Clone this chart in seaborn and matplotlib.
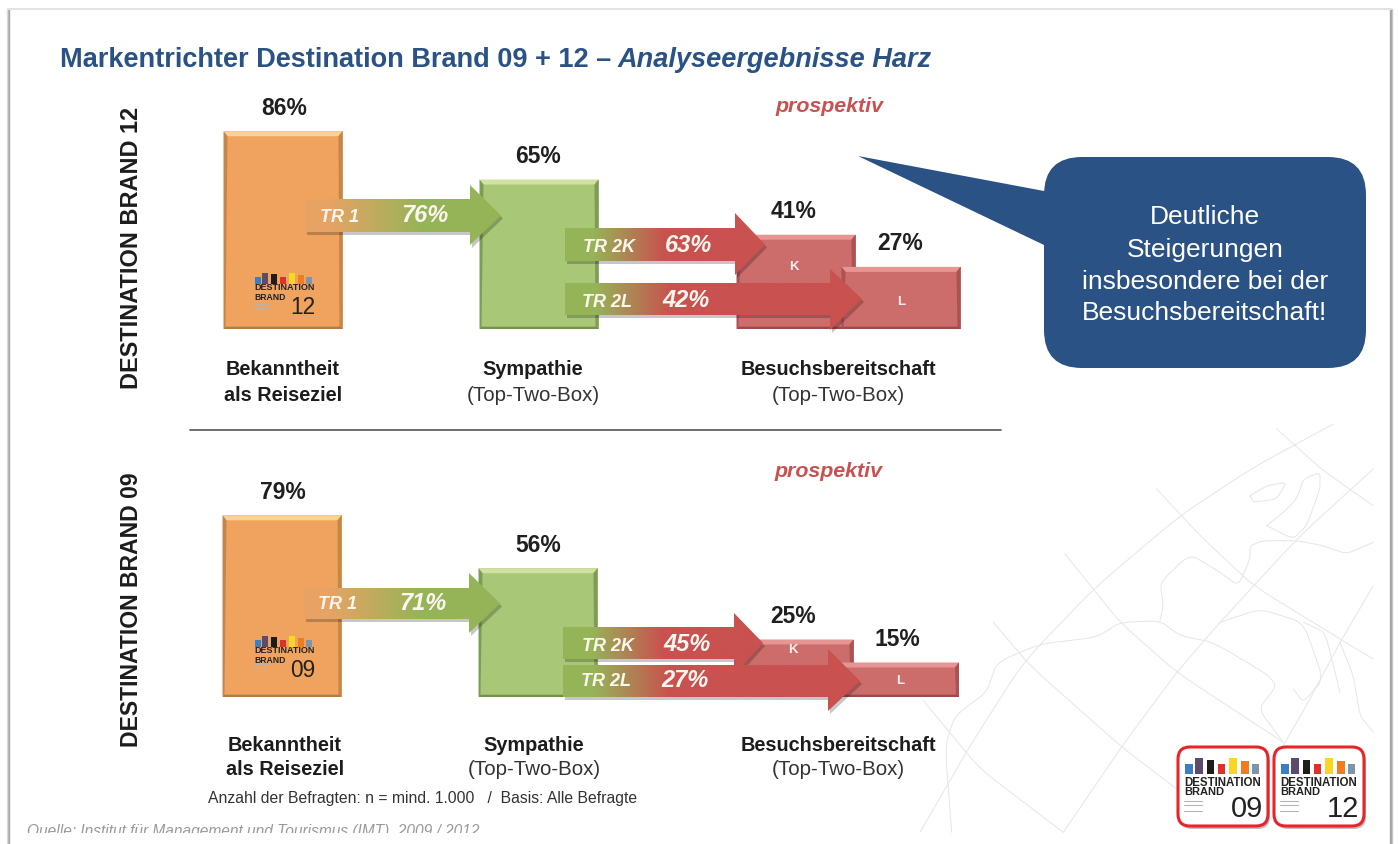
import numpy as np
import pandas as pd
import matplotlib
matplotlib.use('Agg')
import matplotlib.pyplot as plt
import seaborn as sns
from matplotlib.colors import LinearSegmentedColormap
from matplotlib.patches import FancyBboxPatch, Polygon, Rectangle

# Werte aus dem Bild
stufen = ['Bekanntheit', 'Sympathie', 'Besuch K', 'Besuch L']
werte_12 = [86, 65, 41, 27]
werte_09 = [79, 56, 25, 15]
tr_namen = ['TR 1', 'TR 2K', 'TR 2L']
tr_12 = [76, 63, 42]
tr_09 = [71, 45, 27]

sns.set_theme(style='white')
plt.rcParams['font.family'] = ['Liberation Sans', 'DejaVu Sans']

B, H = 1399, 845
PX_PRO_PROZENT = 2.3
BLAU = '#2a5284'
ROT = '#c9514f'
GRUEN = '#95b458'
ORANGE = '#e8a364'
FARBEN = dict(zip(stufen, ['#f0a35e', '#a9c877', '#cc6c6b', '#cc6c6b']))
KANTEN = dict(zip(stufen, [('#fbd391', '#c58649', '#b07c4a'), ('#cfe2a4', '#7f9c56', '#74904e'),
                           ('#e69593', '#a95352', '#9c4a49'), ('#e69593', '#a95352', '#9c4a49')]))

fig = plt.figure(figsize=(B / 100, H / 100), dpi=100, facecolor='white')


def seiten_achse(z):
    ax = fig.add_axes([0, 0, 1, 1], zorder=z)
    ax.set_xlim(0, B)
    ax.set_ylim(H, 0)
    ax.axis('off')
    ax.patch.set_alpha(0)
    return ax


hg = seiten_achse(0)
top = seiten_achse(3)

# Folienrahmen
for x, f in [(7, '#e2e2e2'), (8, '#bdbdbd'), (9, '#a8a8a8'), (1390, '#a8a8a8'), (1391, '#a0a0a0'), (1392, '#c8c8c8')]:
    hg.plot([x, x], [10, H], color=f, lw=1)
hg.plot([8, 1391], [10, 10], color='#e3e3e3', lw=1.5)

# Landkarte im Hintergrund (nur Deko)
karte = [
    [(60, 1300), (210, 1040), (370, 790), (580, 570), (840, 350), (1060, 205), (1300, 75)],
    [(490, 1300), (660, 1050), (830, 820), (960, 670), (1200, 410), (1420, 210)],
    [(770, 270), (900, 410), (1060, 560), (1320, 720), (1420, 780)],
    [(495, 465), (660, 670), (830, 820), (1150, 1030)],
    [(280, 670), (390, 800), (660, 1040), (830, 1170)],
    [(1130, 90), (1270, 215), (1420, 320)],
    [(1420, 560), (1320, 730), (1230, 900), (1150, 1040)],
    [(70, 905), (240, 1110), (490, 1300)],
    [(155, 1300), (135, 1040), (165, 950), (260, 880), (290, 790), (420, 735), (590, 715), (660, 670),
     (780, 665), (840, 710), (940, 730), (1100, 825), (1130, 860), (1075, 930), (1150, 1030)],
    [(1420, 430), (1340, 465), (1270, 440), (1190, 425), (1090, 425), (1050, 440), (1050, 480), (1015, 560),
     (960, 520), (870, 465), (780, 550), (790, 620), (780, 665)],
    [(960, 670), (1080, 630), (1210, 670), (1270, 840), (1210, 910), (1180, 870)],
    [(1210, 670), (1275, 700), (1320, 880)],
    [(1320, 730), (1360, 830), (1380, 950), (1420, 1000)],
    [(1050, 290), (1100, 260), (1160, 250), (1130, 300), (1060, 310), (1050, 290)],
    [(1100, 380), (1150, 340), (1190, 300), (1210, 240), (1260, 220), (1260, 270), (1220, 380), (1180, 420), (1100, 380)],
]
for linie in karte:
    p = np.array(linie, float)
    t = np.arange(len(p))
    tt = np.linspace(0, len(p) - 1, 40 * len(p))
    gx = np.interp(tt, t, p[:, 0])
    gy = np.interp(tt, t, p[:, 1])
    k = np.ones(25) / 25
    gx[12:-12] = np.convolve(gx, k, 'valid')
    gy[12:-12] = np.convolve(gy, k, 'valid')
    hg.plot(900 + gx / 3, 400 + gy / 3, color='#e6e6e6', lw=0.7)


def zeile(werte, basis, x_mitte, y_text):
    ax = fig.add_axes([0, (H - basis) / H, 1, 240 / H], zorder=1)
    df = pd.DataFrame({'stufe': stufen, 'wert': werte, 'x': x_mitte})
    breite = 119 / (x_mitte[3] - x_mitte[2])
    sns.barplot(data=df, x='x', y='wert', hue='stufe', hue_order=stufen, palette=FARBEN, native_scale=True,
                dodge=False, width=breite, legend=False, saturation=1, linewidth=0, ax=ax)
    ax.set_xlim(0, B)
    ax.set_ylim(0, 240 / PX_PRO_PROZENT)
    ax.axis('off')
    balken = [p for p in ax.patches if p.get_height() > 0]
    for i, p in enumerate(balken):
        x0, y0, w, h = p.get_x(), p.get_y(), p.get_width(), p.get_height()
        z = 2 + i
        p.set_zorder(z)
        hell, seite, unten = KANTEN[stufen[i]]
        d = 5 / PX_PRO_PROZENT
        ax.add_patch(Polygon([(x0, h), (x0 + w, h), (x0 + w - 4, h - d), (x0 + 4, h - d)], color=hell, lw=0, zorder=z))
        ax.add_patch(Polygon([(x0 + w, h), (x0 + w, 0), (x0 + w - 3, 1), (x0 + w - 4, h - d)], color=seite, lw=0, zorder=z))
        ax.add_patch(Polygon([(x0, h), (x0, 0), (x0 + 2, 1), (x0 + 4, h - d)], color=seite, lw=0, zorder=z))
        ax.add_patch(Polygon([(x0, 0), (x0 + w, 0), (x0 + w - 2, 1), (x0 + 2, 1)], color=unten, lw=0, zorder=z))
        ax.annotate(f'{werte[i]}%', (y_text[i], h), xytext=(0, 17.3), textcoords='offset points', ha='center',
                    va='center', fontsize=16.5, fontweight='bold', color='#1f1f1f', zorder=z + 10)
    return ax


zeile(werte_12, 330, [283, 539, 796, 901], [284, 538, 794, 900])
zeile(werte_09, 698, [282, 538, 794, 899.5], [283, 538, 793, 897])


def pfeil(x0, x1, xk, yo, yu, ko, ku, farben):
    punkte = [(x0, yo), (xk, yo), (xk, ko), (x1, (yo + yu) / 2), (xk, ku), (xk, yu), (x0, yu)]
    top.add_patch(Polygon([(a + 2, b + 3) for a, b in punkte], color='black', alpha=0.22, lw=0, zorder=4))
    cmap = LinearSegmentedColormap.from_list('g', farben)
    im = top.imshow(np.linspace(0, 1, 256).reshape(1, -1), extent=(x0, x1, ku, ko), aspect='auto', cmap=cmap, zorder=5)
    im.set_clip_path(Polygon(punkte, transform=top.transData))


def arrow_text(x, y, s, gross=False):
    top.text(x, y, s, ha='center', va='center', color='#fbf7ef', fontsize=17 if gross else 13,
             fontweight='bold', style='italic', zorder=7)


g_tr1 = [(0, ORANGE), (0.12, ORANGE), (0.6, GRUEN), (1, GRUEN)]
g_k = [(0, GRUEN), (0.14, GRUEN), (0.5, ROT), (1, ROT)]
g_l = [(0, GRUEN), (0.1, GRUEN), (0.36, ROT), (1, ROT)]

# Pfeile obere Zeile
pfeil(305, 501, 470, 200, 233, 186, 246, g_tr1)
pfeil(565, 765, 735, 229, 262, 214, 276, g_k)
pfeil(565, 862, 830, 284, 316, 270, 331, g_l)
# Pfeile untere Zeile
pfeil(304, 500, 469, 589, 620, 574, 634, g_tr1)
pfeil(563, 763, 734, 628, 660, 614, 676, g_k)
pfeil(563, 860, 828, 666, 698, 650, 712, g_l)

for (xa, ya, xb, yb), name, w in zip([(340, 217, 425, 216), (609, 248, 689, 246), (607, 303, 686, 301)], tr_namen, tr_12):
    arrow_text(xa, ya, name)
    arrow_text(xb, yb, f'{w}%', True)
for (xa, ya, xb, yb), name, w in zip([(338, 605, 423, 604), (608, 647, 687, 645), (606, 682, 685, 681)], tr_namen, tr_09):
    arrow_text(xa, ya, name)
    arrow_text(xb, yb, f'{w}%', True)

for x, y, s in [(794, 267, 'K'), (901, 302, 'L'), (793, 650, 'K'), (900, 681, 'L')]:
    top.text(x, y, s, ha='center', va='center', color='#fbeeee', fontsize=9.5, fontweight='bold', zorder=7)

# Titel
top.text(60, 67, 'Markentrichter Destination Brand 09 + 12 \u2013', color=BLAU, fontsize=19.5, fontweight='bold', va='baseline')
top.text(618, 67, 'Analyseergebnisse Harz', color=BLAU, fontsize=19.5, fontweight='bold', style='italic', va='baseline')

# Seitenbeschriftung
top.text(131, 248, 'DESTINATION BRAND 12', rotation=90, ha='center', va='center', fontsize=16.9, fontweight='bold', color='#1c1c1c')
top.text(132, 610, 'DESTINATION BRAND 09', rotation=90, ha='center', va='center', fontsize=16.6, fontweight='bold', color='#1c1c1c')
top.text(829, 107, 'prospektiv', ha='center', va='center', fontsize=15.4, fontweight='bold', style='italic', color=ROT)
top.text(828, 472, 'prospektiv', ha='center', va='center', fontsize=15.4, fontweight='bold', style='italic', color=ROT)

# Achsenbeschriftung der Stufen
for y1, y2, xs in [(370, 396, (283, 533, 838)), (746, 770, (285, 534, 838))]:
    top.text(xs[0], y1, 'Bekanntheit', ha='center', va='center', fontsize=14.3, fontweight='bold', color='#1c1c1c')
    top.text(xs[0], y2, 'als Reiseziel', ha='center', va='center', fontsize=14.3, fontweight='bold', color='#1c1c1c')
    top.text(xs[1], y1, 'Sympathie', ha='center', va='center', fontsize=14.3, fontweight='bold', color='#1c1c1c')
    top.text(xs[1], y2, '(Top-Two-Box)', ha='center', va='center', fontsize=14.8, color='#333333')
    top.text(xs[2], y1, 'Besuchsbereitschaft', ha='center', va='center', fontsize=14.3, fontweight='bold', color='#1c1c1c')
    top.text(xs[2], y2, '(Top-Two-Box)', ha='center', va='center', fontsize=14.8, color='#333333')

top.plot([190, 1001], [431, 431], color='#555555', lw=1.2)

top.text(208, 799, 'Anzahl der Befragten: n = mind. 1.000   /  Basis: Alle Befragte', va='center', fontsize=11.3, color='#333333')
top.text(27, 832, 'Quelle: Institut f\u00fcr Management und Tourismus (IMT), 2009 / 2012', va='center', fontsize=11.2, style='italic', color='#9a9a9a')
top.add_patch(Rectangle((12, 834), 1376, 11, color='white', lw=0, zorder=8))

# Sprechblase
top.add_patch(Polygon([(858, 157), (1044, 192), (1060, 192), (1060, 246), (1044, 246)], color=BLAU, lw=0, zorder=6))
top.add_patch(FancyBboxPatch((1044, 158), 322, 211, boxstyle='round,pad=0,rounding_size=38', color=BLAU, lw=0, zorder=6))
for y, s in [(217, 'Deutliche'), (250, 'Steigerungen'), (282, 'insbesondere bei der'), (313, 'Besuchsbereitschaft!')]:
    top.text(1205, y, s, ha='center', va='center', color='white', fontsize=19, zorder=7)


def logo(x, y, w, h, nummer, rahmen=True):
    s = w / 90
    if rahmen:
        top.add_patch(FancyBboxPatch((x + 2, y + 3), w, h, boxstyle='round,pad=0,rounding_size=12', color='black', alpha=0.25, lw=0, zorder=4))
        top.add_patch(FancyBboxPatch((x, y), w, h, boxstyle='round,pad=0,rounding_size=12', fc='white', ec='#e8232a', lw=2.2, zorder=5))
    farben = ['#3a7fc4', '#5d4a6e', '#1c1c1c', '#d9342b', '#f5d820', '#ee7d1f', '#7f94a8']
    xs = [0.08, 0.19, 0.32, 0.44, 0.57, 0.70, 0.82]
    hs = [0.13, 0.20, 0.18, 0.13, 0.20, 0.16, 0.12]
    for fx, fh, f in zip(xs, hs, farben):
        top.add_patch(Rectangle((x + fx * w, y + (0.34 - fh) * h), 0.085 * w, fh * h, color=f, lw=0, zorder=6))
    # im kleinen Logo etwas mehr Zeilenabstand, sonst beruehren sich die Texte
    y_dest, y_brand = (0.44, 0.56) if rahmen else (0.40, 0.58)
    top.text(x + 0.07 * w, y + y_dest * h, 'DESTINATION', fontsize=8.3 * s, fontweight='bold', color='#222222', va='center', zorder=6)
    top.text(x + 0.07 * w, y + y_brand * h, 'BRAND', fontsize=8.0 * s, fontweight='bold', color='#222222', va='center', zorder=6)
    top.text(x + 0.95 * w, y + 0.77 * h, nummer, fontsize=21 * s, color='#222222', ha='right', va='center', zorder=6)
    for fy in [0.68, 0.74, 0.81]:
        top.plot([x + 0.07 * w, x + 0.27 * w], [y + fy * h, y + fy * h], color='#b5b5b5', lw=0.8 * s, zorder=6)


logo(1178, 748, 90, 79, '09')
logo(1274, 748, 90, 79, '12')
logo(249, 267, 70, 52, '12', rahmen=False)
logo(249, 630, 70, 52, '09', rahmen=False)

top.set_xlim(0, B)
top.set_ylim(H, 0)
fig.savefig('out.png', dpi=100, facecolor='white')
